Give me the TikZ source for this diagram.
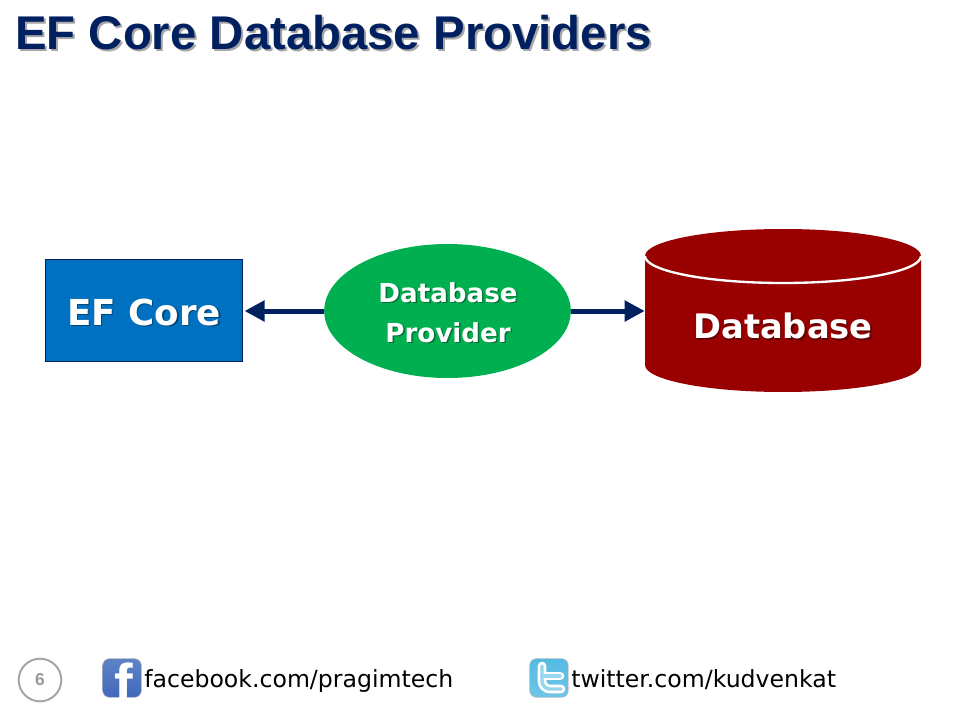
\documentclass[tikz,border=0pt]{standalone}
\usepackage{fontspec}
\setmainfont{Liberation Sans}
\newfontfamily\labelfont{DejaVu Sans}
\usetikzlibrary{arrows.meta,shapes.geometric}
\definecolor{navy}{RGB}{0,32,96}
\definecolor{efblue}{RGB}{0,112,192}
\definecolor{dpgreen}{RGB}{0,176,80}
\definecolor{dbred}{RGB}{153,0,0}
\definecolor{fbtop}{RGB}{92,132,196}
\definecolor{fbmid}{RGB}{48,82,146}
\definecolor{fbbot}{RGB}{66,104,188}
\definecolor{twtop}{RGB}{84,186,226}
\definecolor{twmid}{RGB}{58,160,206}
\definecolor{twbot}{RGB}{112,198,232}
\tikzset{
  boxtext/.style={text=white,align=center,inner sep=0pt},
  boxshadow/.style={text=black,text opacity=.35,align=center,inner sep=0pt},
  foottext/.style={text=black,font=\labelfont\fontsize{17.7}{18}\selectfont,anchor=base west,inner sep=0pt},
  icon/.style={rounded corners=5pt,minimum size=29pt,inner sep=0pt,draw=black!25,line width=.4pt}
}
\begin{document}
\begin{tikzpicture}
  [x=.75pt,y=-.75pt]
  \useasboundingbox (0,0) rectangle (960,720);

  % title
  \node[anchor=west,inner sep=0pt,text=black,text opacity=.35,font=\bfseries\fontsize{35.5}{36}\selectfont] (titleshadow) at (17,34.5) {EF Core Database Providers};
  \node[anchor=west,inner sep=0pt,text=navy,font=\bfseries\fontsize{35.5}{36}\selectfont] (title) at (15,32.5) {EF Core Database Providers};

  % boxes
  \node[draw=navy,fill=efblue,line width=.75pt,minimum width=148pt,minimum height=76.5pt] (ef) at (144,310.5) {};
  \node[ellipse,fill=dpgreen,minimum width=185pt,minimum height=100.5pt,inner sep=0pt] (dp) at (447.5,311) {};
  \node[minimum width=207pt,minimum height=122pt,inner sep=0pt] (db) at (783,311) {};

  % cylinder
  \fill[dbred] (645,256) arc[start angle=180,end angle=360,x radius=138,y radius=27]
    -- (921,365) arc[start angle=0,end angle=180,x radius=138,y radius=27] -- cycle;
  \draw[white,line width=1.75pt] (645,256) arc[start angle=180,end angle=0,x radius=138,y radius=27];

  % labels
  \node[boxshadow,font=\labelfont\bfseries\fontsize{26.8}{27}\selectfont] (efshadow) at (145.5,313.5) {EF Core};
  \node[boxtext,font=\labelfont\bfseries\fontsize{26.8}{27}\selectfont] (eftext) at (144,312) {EF Core};
  \node[boxshadow,font=\labelfont\bfseries\fontsize{19.6}{30}\selectfont] (dpshadow) at (449.5,314) {Database\\Provider};
  \node[boxtext,font=\labelfont\bfseries\fontsize{19.6}{30}\selectfont] (dptext) at (448,312.5) {Database\\Provider};
  \node[boxshadow,font=\labelfont\bfseries\fontsize{25.3}{26}\selectfont] (dbshadow) at (784.5,327.5) {Database};
  \node[boxtext,font=\labelfont\bfseries\fontsize{25.3}{26}\selectfont] (dbtext) at (783,326) {Database};

  \path[-{Triangle[length=15pt,width=15pt]},draw=navy,line width=3.75pt]
    (dp) edge[navy,shorten >=1pt] (ef.east |- dp)
    (dp) edge[navy] (db)
  ;

  % footer
  \node[circle,draw=black!35,line width=1.5pt,minimum size=32pt,inner sep=0pt,text=black!40,font=\bfseries\fontsize{13}{13}\selectfont] (page) at (40,680) {6};

  \node[icon,top color=fbtop,middle color=fbmid,bottom color=fbbot] (fb) at (122,678) {};
  \node[inner sep=0pt,text=white,font=\bfseries\fontsize{42}{42}\selectfont] (fbmark) at (124,683) {f};
  \node[foottext] (fbtext) at (144,687) {facebook.com/pragimtech};

  \node[icon,top color=twtop,middle color=twmid,bottom color=twbot] (tw) at (549,678) {};
  \draw[white,line width=6.5pt,line cap=round,rounded corners=6pt] (542,666) -- (542,689) -- (561,689);
  \draw[white,line width=6.5pt,line cap=round] (542,676) -- (560,676);
  \draw[twtop!60!white,line width=2.6pt,line cap=round,rounded corners=6pt] (542,666) -- (542,689) -- (561,689);
  \draw[twtop!60!white,line width=2.6pt,line cap=round] (542,676) -- (560,676);
  \node[foottext] (twtext) at (571,687) {twitter.com/kudvenkat};
\end{tikzpicture}
\end{document}
